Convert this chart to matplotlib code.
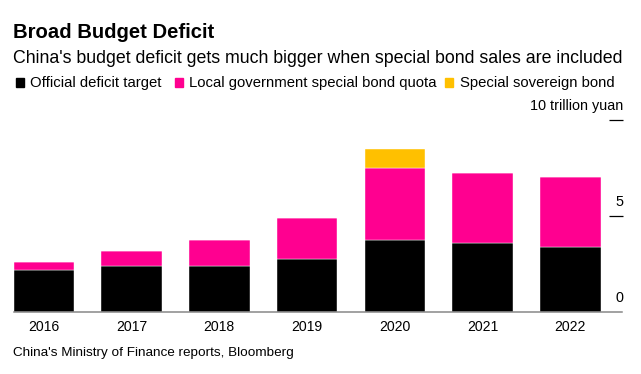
import matplotlib
matplotlib.use("Agg")
import matplotlib.pyplot as plt
import matplotlib.transforms as mtransforms
from matplotlib.patches import Rectangle

# Data (trillion yuan)
years = ['2016', '2017', '2018', '2019', '2020', '2021', '2022']
official = [2.18, 2.38, 2.38, 2.76, 3.76, 3.57, 3.37]
local_special = [0.40, 0.80, 1.35, 2.15, 3.75, 3.65, 3.65]
sovereign = [0, 0, 0, 0, 1.0, 0, 0]
yticks = [0, 5, 10]
ytick_labels = ['0', '5', '10 trillion yuan']

c_black = '#000000'
c_pink = '#ff0090'
c_yellow = '#ffc000'
plt.rcParams['font.family'] = ['Liberation Sans', 'DejaVu Sans']

W, H = 641, 374
fig = plt.figure(figsize=(W / 100, H / 100), dpi=100)
ax = fig.add_axes([13.5 / W, 1 - 311.7 / H, (622.5 - 13.5) / W, (311.7 - 120) / H])

x = list(range(len(years)))
ax.bar(x, official, width=0.69, color=c_black, edgecolor='white', linewidth=0.3)
ax.bar(x, local_special, width=0.69, bottom=official, color=c_pink,
       edgecolor='white', linewidth=0.3)
bottoms = [a + b for a, b in zip(official, local_special)]
ax.bar(x, sovereign, width=0.69, bottom=bottoms, color=c_yellow,
       edgecolor='white', linewidth=0.3)

ax.set_xlim(-0.345, 6.595)
ax.set_ylim(0, 10)
for s in ['top', 'left', 'right']:
    ax.spines[s].set_visible(False)
ax.spines['bottom'].set_color('#888888')
ax.spines['bottom'].set_linewidth(1.1)
ax.spines['bottom'].set_zorder(5)

ax.set_xticks(x)
ax.set_xticklabels(years, fontsize=10.1)
ax.tick_params(axis='x', length=0, pad=6)

ax.yaxis.tick_right()
ax.set_yticks(yticks[1:])
ax.tick_params(axis='y', direction='in', length=10, width=0.9,
               color='black', labelright=False)
for v, lab in zip(yticks, ytick_labels):
    t = mtransforms.offset_copy(
        mtransforms.blended_transform_factory(ax.transAxes, ax.transData),
        fig=fig, x=1, y=14, units='dots')
    ax.text(1.0, v, lab, transform=t, ha='right', va='center', fontsize=10.4)

# Title, subtitle
fig.text(13 / W, 1 - 32.5 / H, 'Broad Budget Deficit', fontsize=14.6, fontweight='bold',
         ha='left', va='center')
fig.text(13 / W, 1 - 58.5 / H,
         "China's budget deficit gets much bigger when special bond sales are included",
         fontsize=12.8, ha='left', va='center')

# Legend
legend_items = [('Official deficit target', c_black, 15.5, 30.5),
                ('Local government special bond quota', c_pink, 175, 189),
                ('Special sovereign bond', c_yellow, 444.5, 460)]
for lab, col, sq_x, tx_x in legend_items:
    fig.patches.append(Rectangle((sq_x / W, 1 - 86.7 / H), 8 / W, 8.4 / H,
                                 transform=fig.transFigure, color=col))
    fig.text(tx_x / W, 1 - 82.5 / H, lab, fontsize=10.7, ha='left', va='center')

# Source
fig.text(13 / W, 1 - 353.3 / H, "China's Ministry of Finance reports, Bloomberg",
         fontsize=9.7, ha='left', va='center')

fig.savefig('out.png', dpi=100)
